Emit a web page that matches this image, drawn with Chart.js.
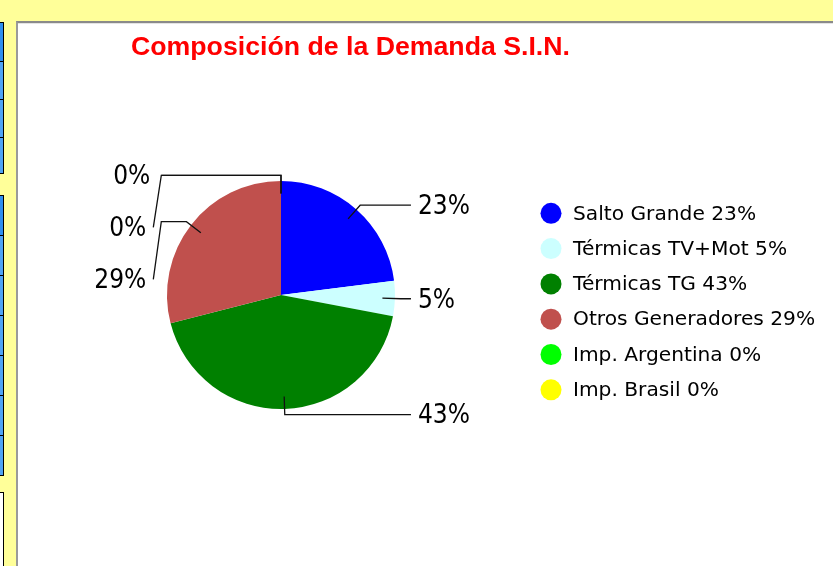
<!DOCTYPE html>
<html>
<head>
<meta charset="utf-8">
<script src="https://cdn.jsdelivr.net/npm/chart.js@4/dist/chart.umd.min.js"></script>
<style>
  html, body { margin: 0; padding: 0; }
  body { width: 833px; height: 566px; background: #FFFF99; position: relative; overflow: hidden; }
  .box { position: absolute; left: -10px; width: 12px; border: 1px solid #000; background: #4FA3F5; box-sizing: content-box; }
  .box.first { background: #2E8FF0; }
  .box.white { background: #fff; }
  #panel { position: absolute; left: 16px; top: 21px; width: 817px; height: 545px;
           border-left: 2px solid #9a9a9a; border-top: 2px solid #8a8a8a; background: #fff; box-sizing: border-box; }
  #panel:before { content: ""; position: absolute; left: 0; top: 0; right: 0; height: 1px; background: #e4e4e4; }
  #wrap { position: absolute; left: 18px; top: 23px; width: 815px; height: 543px; }
</style>
</head>
<body>
<div class="box first" style="top:22px;height:38px"></div>
<div class="box" style="top:61px;height:37px"></div>
<div class="box" style="top:99px;height:37px"></div>
<div class="box" style="top:137px;height:35px"></div>
<div class="box first" style="top:195px;height:39px"></div>
<div class="box" style="top:235px;height:39px"></div>
<div class="box" style="top:275px;height:39px"></div>
<div class="box" style="top:315px;height:39px"></div>
<div class="box" style="top:355px;height:39px"></div>
<div class="box" style="top:395px;height:39px"></div>
<div class="box" style="top:435px;height:39px"></div>
<div class="box white" style="top:492px;height:90px"></div>
<div id="panel"></div>
<div id="wrap"><canvas id="c" width="815" height="543"></canvas></div>
<script>
// ---- data ----
const chartTitle = 'Composición de la Demanda S.I.N.';
const categories = ['Salto Grande', 'Térmicas TV+Mot', 'Térmicas TG', 'Otros Generadores', 'Imp. Argentina', 'Imp. Brasil'];
const shares = [23, 5, 43, 29, 0, 0];
const sliceColors = ['#0000FF', '#CCFFFF', '#008000', '#C0504D', '#00FF00', '#FFFF00'];

const LABEL_FONT = '26px "DejaVu Sans Condensed", "DejaVu Sans", sans-serif';
const LEGEND_FONT = '20.2px "DejaVu Sans", sans-serif';

const decorPlugin = {
  id: 'decor',
  afterDraw(chart) {
    const ctx = chart.ctx;
    const meta = chart.getDatasetMeta(0);
    ctx.save();
    // title
    ctx.font = 'bold 26.7px "Liberation Sans", Arial, sans-serif';
    ctx.fillStyle = '#FF0000';
    ctx.textAlign = 'left';
    ctx.textBaseline = 'alphabetic';
    ctx.fillText(chartTitle, 113, 31.5);

    // outside labels with leader lines
    const items = meta.data.map((arc, i) => {
      const p = arc.getProps(['x', 'y', 'startAngle', 'endAngle', 'outerRadius'], true);
      const a = (p.startAngle + p.endAngle) / 2;
      const R = p.outerRadius;
      const c = Math.cos(a), s = Math.sin(a);
      return {
        i, cx: p.x, cy: p.y, R,
        p0: { x: p.x + 0.89 * R * c, y: p.y + 0.89 * R * s },
        p1: { x: p.x + 1.05 * R * c, y: p.y + 1.05 * R * s },
        right: c > 1e-9,
        text: shares[i] + '%'
      };
    });
    const place = (list) => {
      list.sort((a, b) => a.p1.y - b.p1.y || a.i - b.i);
      let prev = -Infinity;
      list.forEach(it => { it.ly = Math.max(it.p1.y, prev + 52); prev = it.ly; });
    };
    const left = items.filter(it => !it.right), right = items.filter(it => it.right);
    place(left); place(right);

    ctx.strokeStyle = '#111';
    ctx.lineWidth = 1.3;
    ctx.fillStyle = '#000';
    ctx.font = LABEL_FONT;
    ctx.textBaseline = 'middle';
    items.forEach(it => {
      ctx.beginPath();
      ctx.moveTo(it.p0.x, it.p0.y);
      ctx.lineTo(it.p1.x, it.p1.y);
      if (it.right) {
        const ex = it.cx + 1.14 * it.R;
        ctx.lineTo(ex, it.p1.y);
        if (Math.abs(it.ly - it.p1.y) > 0.5) ctx.lineTo(ex + 8, it.ly);
        ctx.stroke();
        ctx.textAlign = 'left';
        ctx.fillText(it.text, ex + 7, it.ly + 2);
      } else {
        const ex = it.cx - 1.05 * it.R;
        ctx.lineTo(ex, it.p1.y);
        let tx = ex - 11;
        if (Math.abs(it.ly - it.p1.y) > 0.5) { ctx.lineTo(ex - 8, it.ly); tx = ex - 15; }
        ctx.stroke();
        ctx.textAlign = 'right';
        ctx.fillText(it.text, tx, it.ly + 2);
      }
    });

    // legend
    ctx.font = LEGEND_FONT;
    ctx.textAlign = 'left';
    ctx.textBaseline = 'middle';
    categories.forEach((name, i) => {
      const y = 190.3 + i * 35.3;
      ctx.beginPath();
      ctx.arc(533, y, 10.5, 0, Math.PI * 2);
      ctx.fillStyle = sliceColors[i];
      ctx.fill();
      ctx.fillStyle = '#000';
      ctx.fillText(name + ' ' + shares[i] + '%', 555, y + 1);
    });
    ctx.restore();
  }
};

new Chart(document.getElementById('c'), {
  type: 'pie',
  data: {
    labels: categories,
    datasets: [{
      data: shares,
      backgroundColor: sliceColors,
      borderWidth: 0,
      hoverBorderWidth: 0,
      hoverOffset: 0,
      offset: 0
    }]
  },
  options: {
    responsive: false,
    animation: false,
    events: [],
    layout: { padding: { left: 149, top: 158, right: 438, bottom: 157 } },
    plugins: { legend: { display: false }, title: { display: false }, tooltip: { enabled: false } }
  },
  plugins: [decorPlugin]
});
</script>
</body>
</html>
